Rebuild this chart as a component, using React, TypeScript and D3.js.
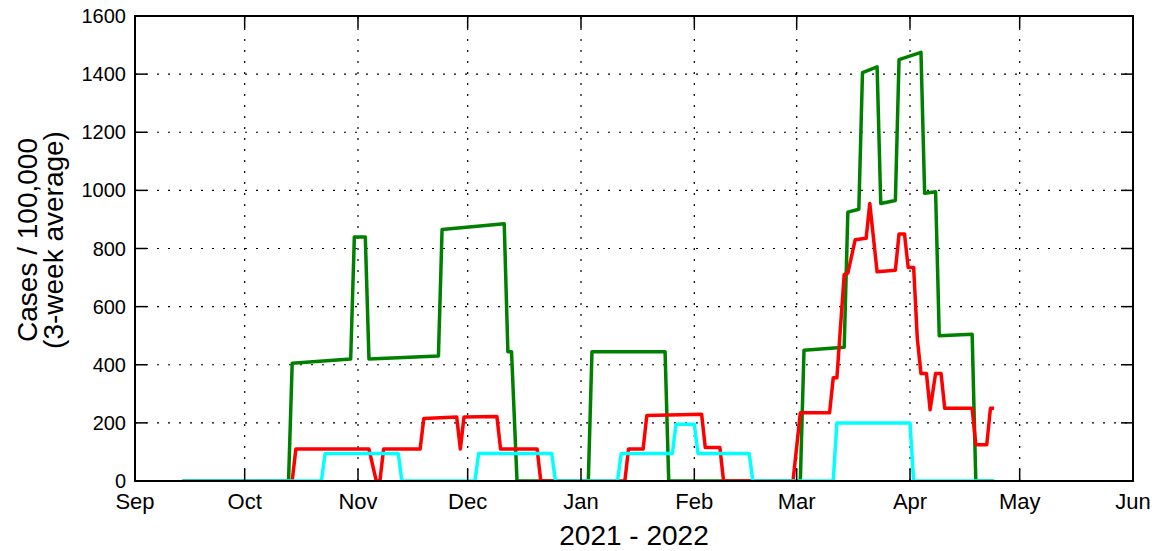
import React from 'react';
import * as d3 from 'd3';

// plot frame in page pixels
const W = 1155;
const H = 551;
const plotLeft = 135;
const plotRight = 1133;
const plotTop = 16;
const plotBottom = 481;

// dates as "YYYY-MM-DD" or "YYYY-MM-DD HH"
const greenDates = [
  '2021-09-14', '2021-10-13', '2021-10-14', '2021-10-30', '2021-10-31', '2021-11-03', '2021-11-04',
  '2021-11-23', '2021-11-24', '2021-12-11', '2021-12-12', '2021-12-13', '2021-12-14 12',
  '2022-01-03', '2022-01-04', '2022-01-24', '2022-01-25',
  '2022-03-02', '2022-03-03', '2022-03-14', '2022-03-15', '2022-03-18', '2022-03-19',
  '2022-03-23', '2022-03-24', '2022-03-28', '2022-03-29', '2022-04-04', '2022-04-05',
  '2022-04-08', '2022-04-09', '2022-04-18', '2022-04-19', '2022-04-24',
];
const greenValues = [
  0, 0, 405, 420, 840, 840, 420,
  430, 865, 885, 445, 445, 0,
  0, 445, 445, 0,
  0, 450, 460, 925, 935, 1405,
  1425, 955, 965, 1450, 1475, 990,
  995, 500, 505, 0, 0,
];

const redDates = [
  '2021-09-14', '2021-10-14', '2021-10-15', '2021-11-04', '2021-11-06', '2021-11-07', '2021-11-08',
  '2021-11-18', '2021-11-19', '2021-11-28', '2021-11-29', '2021-11-30', '2021-12-09', '2021-12-10',
  '2021-12-20', '2021-12-21',
  '2022-01-13', '2022-01-14', '2022-01-18', '2022-01-19', '2022-02-03', '2022-02-04', '2022-02-08', '2022-02-09',
  '2022-02-28', '2022-03-02', '2022-03-10', '2022-03-11', '2022-03-12', '2022-03-14', '2022-03-15',
  '2022-03-17', '2022-03-20', '2022-03-21', '2022-03-23', '2022-03-28', '2022-03-29', '2022-03-30 12',
  '2022-03-31 12', '2022-04-02', '2022-04-03', '2022-04-04', '2022-04-05 12', '2022-04-06 12',
  '2022-04-08', '2022-04-09 12', '2022-04-10 12', '2022-04-18', '2022-04-19', '2022-04-22',
  '2022-04-23', '2022-04-24',
];
const redValues = [
  0, 0, 110, 110, 0, 0, 110,
  110, 215, 220, 110, 220, 222, 110,
  110, 0,
  0, 110, 110, 225, 230, 115, 115, 0,
  0, 235, 235, 355, 355, 710, 715,
  830, 835, 955, 720, 725, 850, 850,
  735, 735, 490, 370, 370, 245,
  370, 370, 250, 250, 125, 125,
  250, 250,
];

const cyanDates = [
  '2021-09-14', '2021-10-22', '2021-10-23', '2021-11-12', '2021-11-13',
  '2021-12-03', '2021-12-04', '2021-12-24', '2021-12-25',
  '2022-01-11', '2022-01-12', '2022-01-26', '2022-01-27', '2022-02-01', '2022-02-02', '2022-02-16', '2022-02-17',
  '2022-03-11', '2022-03-12', '2022-04-01', '2022-04-02', '2022-04-24',
];
const cyanValues = [
  0, 0, 95, 95, 0,
  0, 95, 95, 0,
  0, 95, 95, 195, 195, 95, 95, 0,
  0, 200, 200, 0, 0,
];

const monthLabels = ['Sep', 'Oct', 'Nov', 'Dec', 'Jan', 'Feb', 'Mar', 'Apr', 'May', 'Jun'];
const yTicks = [0, 200, 400, 600, 800, 1000, 1200, 1400, 1600];

const parseHour = d3.timeParse('%Y-%m-%d %H');
const toDate = (s: string) => parseHour(s.includes(' ') ? s : s + ' 00') as Date;

const series = [
  { color: '#008000', dates: greenDates, values: greenValues },
  { color: '#ff0000', dates: redDates, values: redValues },
  { color: '#00ffff', dates: cyanDates, values: cyanValues },
];

const font = '"Liberation Sans", Arial, Helvetica, sans-serif';

export default function App() {
  const x = d3.scaleTime()
    .domain([toDate('2021-09-01'), toDate('2022-06-01')])
    .range([plotLeft, plotRight]);
  const y = d3.scaleLinear().domain([0, 1600]).range([plotBottom, plotTop]);

  const months = d3.timeMonth.range(toDate('2021-09-01'), toDate('2022-06-02'));

  const line = d3.line<[Date, number]>()
    .x(d => x(d[0]))
    .y(d => y(d[1]));

  const tickLen = 12;

  return (
    <svg width={W} height={H} style={{ position: 'absolute', left: 0, top: 0, background: '#fff' }}
      fontFamily={font}>
      <defs>
        <clipPath id="plot">
          <rect x={plotLeft} y={plotTop} width={plotRight - plotLeft} height={plotBottom - plotTop} />
        </clipPath>
      </defs>
      <rect width={W} height={H} fill="#fff" />

      {/* grid */}
      <g stroke="#000" strokeWidth={1.2} strokeDasharray="2,9">
        {months.slice(1, -1).map((m, i) => (
          <line key={'gx' + i} x1={x(m)} x2={x(m)} y1={plotBottom} y2={plotTop} />
        ))}
        {yTicks.slice(1, -1).map(t => (
          <line key={'gy' + t} x1={plotLeft} x2={plotRight} y1={y(t)} y2={y(t)} />
        ))}
      </g>

      {/* series */}
      <g clipPath="url(#plot)" fill="none" strokeWidth={3.5} strokeLinejoin="round">
        {series.map((s, i) => (
          <path key={i} stroke={s.color}
            d={line(s.dates.map((d, j) => [toDate(d), s.values[j]] as [Date, number])) || ''} />
        ))}
      </g>

      {/* ticks */}
      <g stroke="#000" strokeWidth={1.5}>
        {months.map((m, i) => (
          <g key={'tx' + i}>
            <line x1={x(m)} x2={x(m)} y1={plotBottom} y2={plotBottom - tickLen} />
            <line x1={x(m)} x2={x(m)} y1={plotTop} y2={plotTop + tickLen} />
          </g>
        ))}
        {yTicks.map(t => (
          <g key={'ty' + t}>
            <line x1={plotLeft} x2={plotLeft + tickLen} y1={y(t)} y2={y(t)} />
            <line x1={plotRight} x2={plotRight - tickLen} y1={y(t)} y2={y(t)} />
          </g>
        ))}
      </g>

      {/* frame */}
      <rect x={plotLeft} y={plotTop} width={plotRight - plotLeft} height={plotBottom - plotTop}
        fill="none" stroke="#000" strokeWidth={2} />

      {/* tick labels */}
      <g fontSize={22} textAnchor="middle" fill="#000">
        {months.map((m, i) => (
          <text key={'lx' + i} x={x(m)} y={509}>{monthLabels[i]}</text>
        ))}
      </g>
      <g fontSize={20} textAnchor="end" fill="#000">
        {yTicks.map(t => (
          <text key={'ly' + t} x={126} y={y(t)} dy="0.35em">{t}</text>
        ))}
      </g>

      {/* axis titles */}
      <text x={(plotLeft + plotRight) / 2} y={545} fontSize={28} textAnchor="middle">2021 - 2022</text>
      <g transform="translate(37,240) rotate(-90)" fontSize={28} textAnchor="middle">
        <text x={0} y={0}>Cases / 100,000</text>
        <text x={0} y={26}>(3-week average)</text>
      </g>
    </svg>
  );
}
